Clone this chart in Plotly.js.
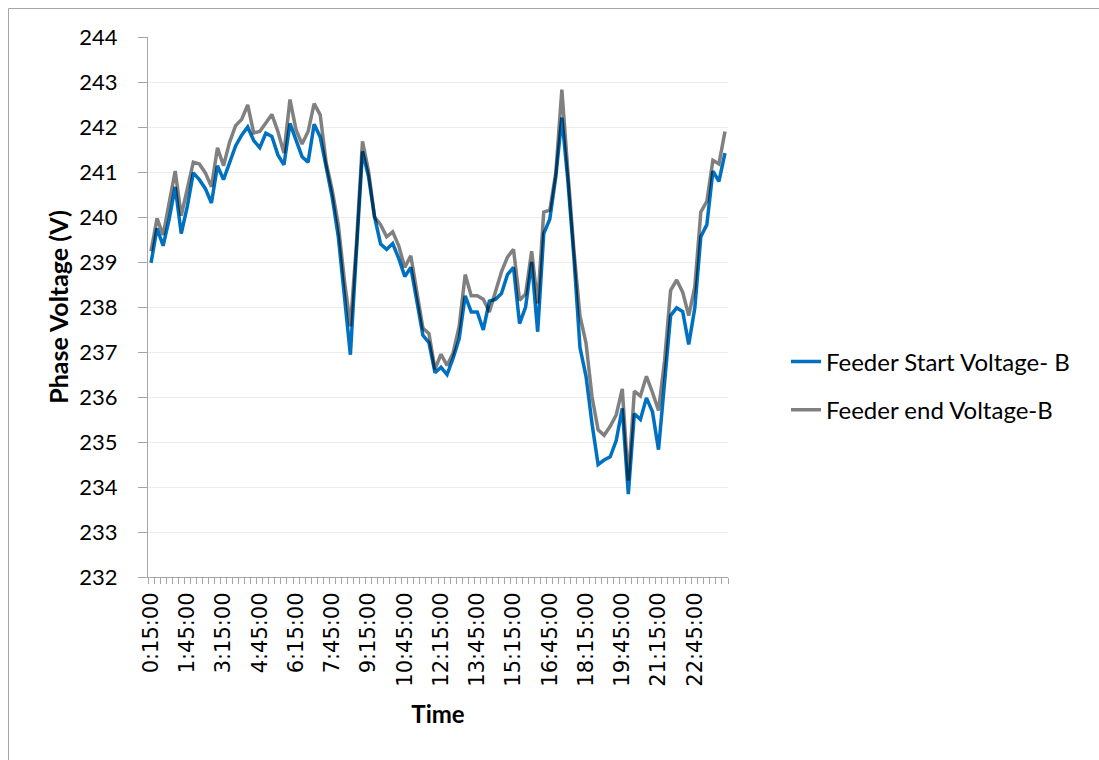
<!DOCTYPE html>
<html>
<head>
<meta charset="utf-8">
<script src="https://cdn.plot.ly/plotly-3.0.1.min.js"></script>
<style>
  html, body { margin: 0; padding: 0; background: #ffffff; }
  #chart { width: 1099px; height: 760px; }
  .scatterlayer .trace:nth-child(2) .js-line { mix-blend-mode: multiply; }
</style>
</head>
<body>
<div id="chart"></div>
<script>
// 15-minute interval category labels, 0:15:00 ... 24:00:00
const times = [];
for (let m = 15; m <= 24 * 60; m += 15) {
  const h = Math.floor(m / 60), mm = m % 60;
  times.push(h + ':' + String(mm).padStart(2, '0') + ':00');
}

const feederStartB = [
  238.98, 239.75, 239.36, 239.95, 240.67, 239.63, 240.23, 240.98, 240.83, 240.63,
  240.31, 241.14, 240.83, 241.22, 241.58, 241.82, 242.00, 241.70, 241.54, 241.86,
  241.79, 241.38, 241.16, 242.08, 241.70, 241.34, 241.22, 242.06, 241.78, 241.06,
  240.43, 239.56, 238.29, 236.94, 239.24, 241.46, 240.90, 240.00, 239.40, 239.28,
  239.41, 239.08, 238.68, 238.88, 238.13, 237.37, 237.21, 236.54, 236.66, 236.50,
  236.86, 237.29, 238.25, 237.89, 237.89, 237.49, 238.13, 238.17, 238.30, 238.72,
  238.88, 237.63, 238.00, 239.00, 237.45, 239.63, 239.95, 240.90, 242.21, 240.80,
  239.10, 237.10, 236.46, 235.40, 234.50, 234.60, 234.67, 235.03, 235.75, 233.84,
  235.63, 235.50, 235.98, 235.67, 234.83, 236.40, 237.81, 237.98, 237.90, 237.17,
  237.97, 239.56, 239.83, 241.02, 240.79, 241.42
];

const feederEndB = [
  239.24, 239.97, 239.60, 240.27, 241.02, 240.03, 240.67, 241.22, 241.18, 240.98,
  240.67, 241.54, 241.14, 241.66, 242.03, 242.17, 242.49, 241.87, 241.90, 242.08,
  242.28, 241.90, 241.42, 242.61, 241.94, 241.62, 241.90, 242.52, 242.27, 241.20,
  240.59, 239.83, 238.60, 237.57, 239.40, 241.68, 241.02, 240.00, 239.83, 239.56,
  239.67, 239.36, 238.88, 239.14, 238.29, 237.53, 237.41, 236.62, 236.95, 236.70,
  236.98, 237.57, 238.72, 238.25, 238.25, 238.17, 237.89, 238.33, 238.78, 239.11,
  239.28, 238.15, 238.29, 239.24, 238.08, 240.11, 240.15, 240.98, 242.83, 241.00,
  239.25, 237.80, 237.20, 236.00, 235.27, 235.15, 235.35, 235.60, 236.18, 234.14,
  236.13, 236.02, 236.46, 236.10, 235.70, 236.80, 238.37, 238.60, 238.33, 237.81,
  238.44, 240.11, 240.35, 241.26, 241.18, 241.90
];

const seriesNames = ['Feeder Start Voltage- B', 'Feeder end Voltage-B'];
const seriesColors = ['#0070C0', '#808080'];

const idx = times.map((t, i) => i);
const labelStep = 6;
const tickVals = idx.filter(i => i % labelStep === 0);
const tickText = tickVals.map(i => times[i]);

const FONT = 'Lato, "Open Sans", sans-serif';
const XFONT = '"DejaVu Sans", sans-serif';

const traces = [feederStartB, feederEndB].map((ys, k) => ({
  type: 'scatter',
  mode: 'lines',
  x: idx,
  y: ys,
  name: seriesNames[k],
  legendgroup: 'g' + k,
  line: { color: seriesColors[k], width: 3.5 },
  hoverinfo: 'x+y'
}));

// plot-area pixel box: x 148..728, y 37..577
const L = 148, R = 728, T = 37, B = 577;
const px = v => (v - L) / (R - L);
const py = v => (B - v) / (B - T);

const layout = {
  width: 1099,
  height: 760,
  margin: { l: L, r: 1099 - R, t: T, b: 760 - B, pad: 0 },
  paper_bgcolor: '#ffffff',
  plot_bgcolor: '#ffffff',
  font: { family: FONT, color: '#000000', size: 20 },
  showlegend: true,
  legend: {
    x: px(786), xanchor: 'left',
    y: py(386), yanchor: 'middle',
    traceorder: 'grouped',
    tracegroupgap: 14,
    font: { family: FONT, size: 24, color: '#000000' },
    bgcolor: 'rgba(0,0,0,0)'
  },
  xaxis: {
    type: 'linear',
    range: [-0.5, idx.length - 0.5],
    tickmode: 'array',
    tickvals: tickVals,
    ticktext: tickText,
    tickangle: -90,
    ticks: '',
    ticklabelstandoff: 6,
    tickfont: { family: XFONT, size: 21, color: '#000000' },
    minor: { ticks: 'outside', tick0: -0.5, dtick: 1, ticklen: 6, tickcolor: '#a6a6a6', tickwidth: 1, showgrid: false },
    showline: true,
    linecolor: '#a6a6a6',
    linewidth: 1,
    showgrid: false,
    zeroline: false,
    fixedrange: true,
    title: { text: '<b>Time</b>', font: { family: FONT, size: 24, color: '#000000' }, standoff: 20 }
  },
  yaxis: {
    range: [232, 244],
    dtick: 1,
    tick0: 232,
    ticks: 'outside',
    ticklen: 9,
    tickcolor: '#a6a6a6',
    tickwidth: 1,
    ticklabelstandoff: 16,
    tickfont: { family: FONT, size: 22, color: '#000000' },
    showline: true,
    linecolor: '#a6a6a6',
    linewidth: 1,
    showgrid: true,
    gridcolor: '#ececec',
    gridwidth: 1,
    zeroline: false,
    fixedrange: true,
    title: { text: '<b>Phase Voltage (V)</b>', font: { family: FONT, size: 25, color: '#000000' }, standoff: 3 }
  },
  shapes: [
    {
      type: 'rect', xref: 'paper', yref: 'paper', layer: 'above',
      x0: px(8.5), x1: px(1130), y0: py(800), y1: py(8.5),
      line: { color: '#a6a6a6', width: 1 }, fillcolor: 'rgba(0,0,0,0)'
    }
  ]
};

Plotly.newPlot('chart', traces, layout, { displayModeBar: false, staticPlot: true });
</script>
</body>
</html>
